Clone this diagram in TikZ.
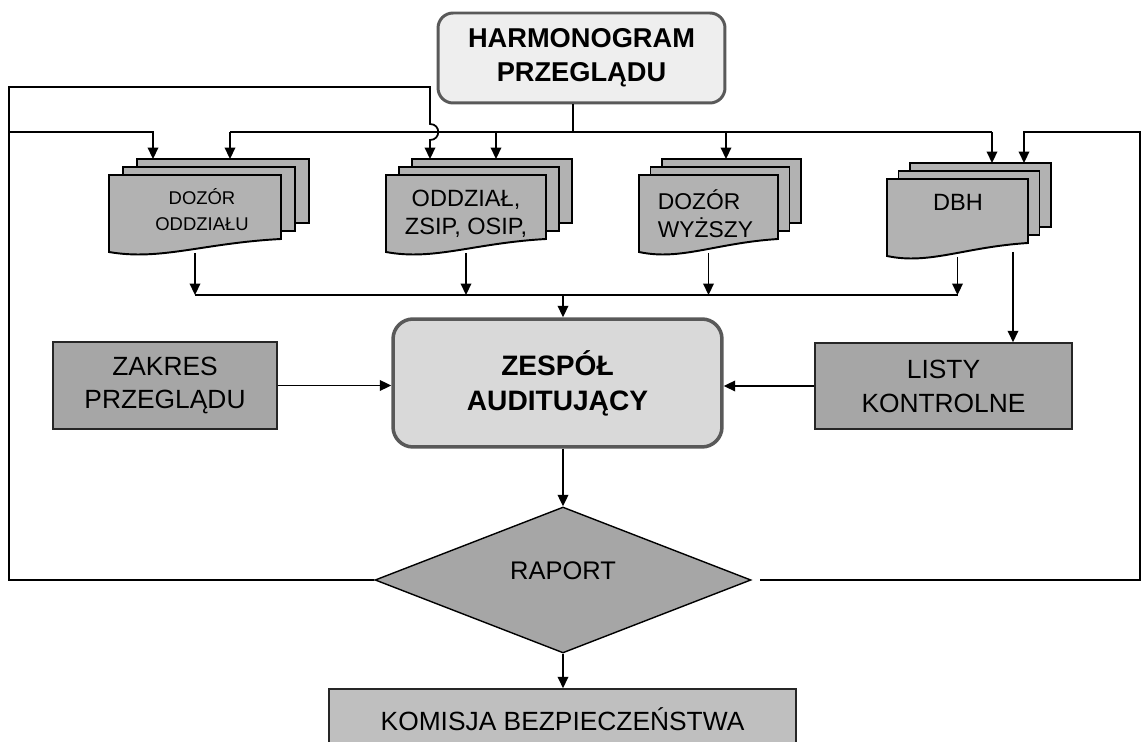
\documentclass[tikz,border=0pt]{standalone}
\usepackage{fontspec}
\setmainfont{Liberation Sans}
\usetikzlibrary{arrows.meta,shapes.geometric}
\definecolor{ramka}{HTML}{595959}
\definecolor{jasny}{HTML}{EEEEEE}
\definecolor{srodek}{HTML}{D9D9D9}
\definecolor{dokument}{HTML}{B2B2B2}
\definecolor{ciemny}{HTML}{A6A6A6}
\definecolor{komisja}{HTML}{BFBFBF}

\newcommand{\stos}[5]{%
	\filldraw[dok] ({#2+2*#5},{#3-16}) rectangle ({#2+2*#5+#4},{#3+48});
	\filldraw[dok] ({#2+#5},{#3-8}) rectangle ({#2+#5+#4},{#3+56});
	\filldraw[dok] ({#2+#4},{#3+64})--({#2+#4},#3)--(#2,#3)--(#2,{#3+77})
		.. controls ({#2+0.3*#4},{#3+86}) and ({#2+0.55*#4},{#3+68}) .. ({#2+#4},{#3+64})--cycle;
	\coordinate (#1-tyl) at ({#2+2*#5+#4/2},{#3-16});
	\coordinate (#1-wy) at ({#2+#4/2},{#3+78});
}

\begin{document}
\begin{tikzpicture}[x=0.02cm,y=-0.02cm,line width=1pt,>={Triangle[length=6.5pt,width=6pt]},
		dok/.style={fill=dokument,draw=black,line width=1.1pt},
		glowny/.style={draw=ramka,align=center,inner sep=0,font=\bfseries\fontsize{15.5}{19.5}\selectfont},
		blok/.style={draw=black!85,fill=ciemny,line width=0.9pt,align=center,inner sep=0,font=\fontsize{15}{19.3}\selectfont},
		tekst/.style={align=center,inner sep=0}]
		\useasboundingbox (0,0) rectangle (1143,742);
		\clip (0,0) rectangle (1143,742);

		\node[glowny,fill=jasny,rounded corners=0.3cm,line width=1.7pt,minimum width=5.74cm,minimum height=1.8cm] (harm) at (581.5,58) {HARMONOGRAM\\PRZEGLĄDU};

		\stos{A}{109}{175}{172}{14}
		\stos{B}{386}{175}{160}{13}
		\stos{C}{639}{175}{139}{11.5}
		\stos{D}{887}{179}{141}{11.5}
		\node[tekst,font=\fontsize{10.5}{14.7}\selectfont] (tA) at (202,210) {DOZÓR\\ODDZIAŁU};
		\node[tekst,font=\fontsize{13.4}{16}\selectfont] (tB) at (466,214) {ODDZIAŁ,\\ZSIP, OSIP,};
		\node[tekst,align=left,anchor=west,font=\fontsize{13}{16}\selectfont] (tC) at (657,214) {DOZÓR\\WYŻSZY};
		\node[tekst,font=\fontsize{13.4}{16}\selectfont] (tD) at (958,202) {DBH};

		\node[glowny,fill=srodek,rounded corners=0.4cm,line width=2pt,minimum width=6.58cm,minimum height=2.56cm,font=\bfseries\fontsize{16}{20}\selectfont] (zespol) at (557.5,383) {ZESPÓŁ\\AUDITUJĄCY};
		\node[blok,minimum width=4.48cm,minimum height=1.74cm] (zakres) at (165,385.5) {ZAKRES\\PRZEGLĄDU};
		\node[blok,minimum width=5.14cm,minimum height=1.72cm] (listy) at (943.5,386) {LISTY\\KONTROLNE};
		\node[diamond,draw=black,fill=ciemny,line width=0.8pt,inner sep=0,minimum width=7.52cm,minimum height=2.92cm,
			font=\fontsize{14.5}{17}\selectfont,text height=10pt,text depth=10pt] (raport) at (563,580) {RAPORT};
		\node[blok,fill=komisja,minimum width=9.34cm,minimum height=1.2cm] (komisja) at (562.5,719) {KOMISJA BEZPIECZEŃSTWA};

		\coordinate (gora) at (573,132);
		\coordinate (rogL) at (9,87);
		\coordinate (rogP) at (1140,132);
		\coordinate (szyna) at (563,295);
		\coordinate (D-wy2) at (1013,252);
		\foreach \x/\n in {153/1,230/2,430/3,496/4,726/5,992/6,1024/7}
			\coordinate (k\n) at (\x,132);

		\draw (harm.south -| gora)--(gora);
		\draw (k2)--(k6);
		\foreach \n/\s in {2/A,4/B,5/C,6/D}
			\draw[->] (k\n)--(k\n |- \s-tyl);
		\draw[->] (rogL |- k1)--(k1)--(k1 |- A-tyl);
		\draw[->] (raport.west) -| (rogL) -| ([yshift=0.16cm]k3)
			.. controls +(11,0) and +(11,0) .. ([yshift=-0.16cm]k3)--(k3 |- B-tyl);
		\draw[->] ([xshift=5pt]raport.east) -| (rogP)--(k7)--(k7 |- D-tyl);

		\foreach \s in {A,B,C,D}
			\draw[->] (\s-wy)--(\s-wy |- szyna);
		\draw (A-wy |- szyna)--(D-wy |- szyna);
		\draw[->] (szyna)--(szyna |- zespol.north);
		\draw[->] (D-wy2)--(D-wy2 |- listy.north);

		\draw[->] (zakres.east)--(zakres.east -| zespol.west);
		\draw[->] (listy.west)--(listy.west -| zespol.east);
		\draw[->] (raport.north |- zespol.south)--(raport.north);
		\draw[->] (raport.south)--(raport.south |- komisja.north);
	\end{tikzpicture}
\end{document}
